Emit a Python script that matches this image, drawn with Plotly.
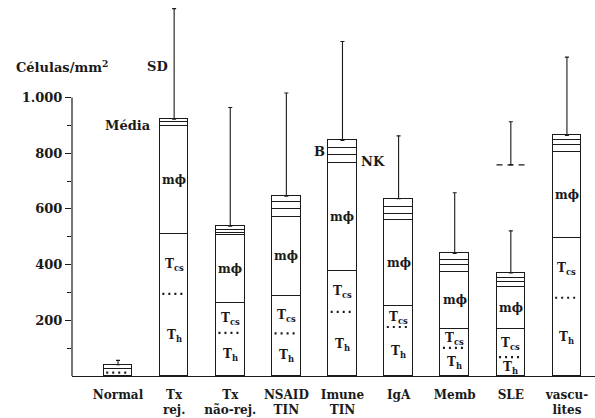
import plotly.graph_objects as go

# Cell densities (cells/mm²) per diagnosis, stacked from the bottom
categories = ["Normal", "Tx<br>rej.", "Tx<br>não-rej.", "NSAID<br>TIN", "Imune<br>TIN",
              "IgA", "Memb", "SLE", "vascu-<br>lites"]
th = [12, 295, 155, 153, 230, 176, 101, 68, 281]
tcs = [14, 215, 106, 135, 147, 75, 69, 100, 215]
mphi = [15, 387, 244, 283, 387, 308, 203, 152, 308]
nk = [0, 14, 9, 27, 28, 24, 24, 16, 24]
b_cells = [0, 11, 12, 26, 26, 24, 21, 16, 18]
outros = [0, 0, 12, 22, 28, 30, 22, 18, 18]
sd = [15, 397, 426, 370, 355, 225, 218, 151, 281]

# Second SLE group (mean and SD)
sle_alt_mean = 758
sle_alt_sd = 155

y_tickvals = [200, 400, 600, 800, 1000]
y_ticktext = ["200", "400", "600", "800", "1.000"]

FONT = "DejaVu Serif"
INK = "#1a1a1a"
BAR_W = 0.51


def bold(s):
    return "<b>" + s + "</b>"


xs = list(range(len(categories)))
t_total = [a + b for a, b in zip(th, tcs)]
totals = [a + b + c + d + e + f for a, b, c, d, e, f in zip(th, tcs, mphi, nk, b_cells, outros)]

fig = go.Figure()

bar_style = dict(color="white", line=dict(color=INK, width=1.2))
for name, vals in [("T", t_total), ("mϕ", mphi), ("NK", nk), ("B", b_cells), ("outros", outros)]:
    fig.add_trace(go.Bar(x=xs, y=vals, width=BAR_W, marker=bar_style, name=name,
                         showlegend=False, hoverinfo="skip"))

# Dotted divider between Th and Tcs
dx, dy = [], []
for i, v in zip(xs, th):
    dx += [i - 0.21, i + 0.21, None]
    dy += [v, v, None]
fig.add_trace(go.Scatter(x=dx, y=dy, mode="lines", showlegend=False, hoverinfo="skip",
                         line=dict(color=INK, width=2.2, dash="2px,4px")))

# SD whiskers above each bar
fig.add_trace(go.Scatter(x=xs, y=totals, mode="markers", marker=dict(size=1, opacity=0),
                         showlegend=False, hoverinfo="skip",
                         error_y=dict(type="data", symmetric=False, array=sd,
                                      arrayminus=[0] * len(sd), color=INK,
                                      thickness=1.1, width=2)))

# Second SLE group: dashed mean line with its SD
sle_i = categories.index("SLE")
fig.add_trace(go.Scatter(x=[sle_i - BAR_W / 2, sle_i + BAR_W / 2], y=[sle_alt_mean] * 2,
                         mode="lines", showlegend=False, hoverinfo="skip",
                         line=dict(color=INK, width=1.2, dash="6px,5px")))
fig.add_trace(go.Scatter(x=[sle_i], y=[sle_alt_mean], mode="markers",
                         marker=dict(size=1, opacity=0), showlegend=False, hoverinfo="skip",
                         error_y=dict(type="data", symmetric=False, array=[sle_alt_sd],
                                      arrayminus=[0], color=INK, thickness=1.1, width=2)))

# Segment labels inside the bars
annotations = []
lab_font = dict(family=FONT, size=12, color=INK)
txt_font = dict(family=FONT, size=13, color=INK)
for i in xs[1:]:
    annotations.append(dict(x=i, y=th[i] / 2, text=bold("T<sub>h</sub>"), showarrow=False,
                            font=lab_font, yshift=-1))
    annotations.append(dict(x=i, y=th[i] + tcs[i] / 2, text=bold("T<sub>cs</sub>"), showarrow=False,
                            font=lab_font, yshift=-1))
    annotations.append(dict(x=i, y=t_total[i] + mphi[i] / 2, text=bold("mϕ"), showarrow=False,
                            font=lab_font))

imune_i = 4
annotations += [
    dict(x=imune_i - BAR_W / 2, y=t_total[imune_i] + mphi[imune_i] + nk[imune_i] + b_cells[imune_i] / 2,
         text=bold("B"), showarrow=False, xanchor="right", xshift=-1, font=txt_font),
    dict(x=imune_i + BAR_W / 2, y=t_total[imune_i] + mphi[imune_i] + nk[imune_i] / 2,
         text=bold("NK"), showarrow=False, xanchor="left", xshift=2, yshift=-2, font=txt_font),
    dict(x=0.62, y=totals[1] - 22, text=bold("Média"), showarrow=False, xanchor="right",
         font=txt_font),
    dict(x=0.7, y=1112, text=bold("SD"), showarrow=False, font=txt_font),
    dict(x=-0.14, y=1112, text=bold("Células/mm<sup>2</sup>"), showarrow=False, xanchor="right",
         font=txt_font),
]

fig.update_layout(
    width=595, height=418,
    margin=dict(l=72, r=0, t=0, b=42),
    paper_bgcolor="white", plot_bgcolor="white",
    barmode="stack", bargap=0,
    annotations=annotations,
    shapes=[dict(type="line", xref="paper", yref="y", x0=0, x1=0, y0=0, y1=1000,
                 line=dict(color=INK, width=1.2))],
)
fig.update_xaxes(range=[-0.82, 8.5], tickvals=xs, ticktext=[bold(c) for c in categories],
                 ticks="", showgrid=False, zeroline=False, showline=True, linecolor=INK,
                 linewidth=1.2, tickfont=dict(family=FONT, size=12, color=INK),
                 ticklabelstandoff=7)
fig.update_yaxes(range=[0, 1350], tickvals=y_tickvals, ticktext=[bold(t) for t in y_ticktext],
                 ticks="outside", ticklen=6, tickwidth=1.2, tickcolor=INK,
                 showgrid=False, zeroline=False, showline=False,
                 tickfont=dict(family=FONT, size=13, color=INK),
                 minor=dict(tickvals=[100, 300, 500, 700, 900], ticks="outside", ticklen=4,
                            tickwidth=1.1, tickcolor=INK))

fig.write_html("out.html")
